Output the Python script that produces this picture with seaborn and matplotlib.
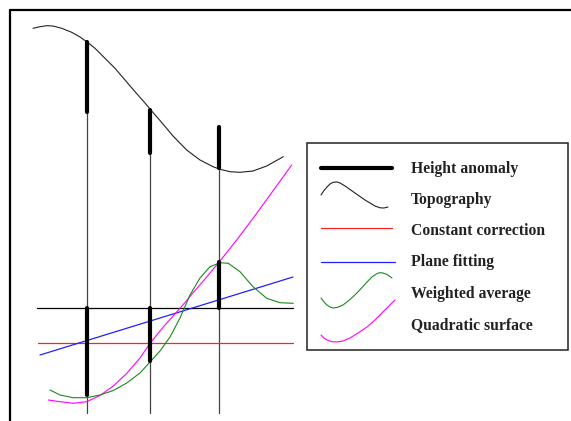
import matplotlib
matplotlib.use("Agg")
import matplotlib.pyplot as plt
import seaborn as sns
from matplotlib.patches import Rectangle

sns.set_theme(style="white")
plt.rcParams['font.family'] = ['Liberation Serif', 'DejaVu Serif']

# ---- schematic curves (image-like coordinates: x right, y down) ----
topo_x = [33, 40, 46.7, 53, 61.7, 71.7, 80, 86.7, 95, 105, 115, 125, 135, 145,
          150, 160, 173, 186.7, 200, 213, 220, 230, 240, 253, 266.7, 283.3]
topo_y = [28.3, 26.7, 25.7, 26, 28.3, 32.3, 37, 41.7, 48.3, 58.3, 68.3, 80, 91.7, 103,
          109, 120.5, 136, 150, 160, 166.7, 169.3, 171.7, 172.3, 171, 166, 156.7]

quad_x = [48.3, 60, 73.3, 86.7, 100, 113.3, 126.7, 140, 150, 163.3, 176.7, 186.7,
          193.3, 206.7, 220, 236.7, 253.3, 270, 291.7]
quad_y = [400, 401.7, 403.3, 401.7, 395.5, 386, 373.5, 358, 343.3, 327, 312, 300.5,
          292.5, 277, 261, 240, 218, 195, 165]

wavg_x = [50, 60, 73.3, 86.7, 100, 113.3, 126.7, 140, 150, 160, 170, 180, 190, 200,
          210, 220, 228.3, 240, 253, 266.7, 280, 293.3]
wavg_y = [390, 395, 397.7, 397.7, 395, 390.5, 383, 373, 362, 351, 337, 318, 295, 278,
          266.7, 262.7, 263.3, 271.7, 286.7, 298.3, 302.7, 303.3]

plane_x = [40, 293]
plane_y = [355, 277]

const_x = [38, 293]
const_y = [343, 343]

ref_x = [37, 293]
ref_y = [308, 308]

# stations
station_x = [87, 150, 219]
station_top = [42, 110, 168]
station_bottom = [413, 413, 413]
anom_upper_top = [42, 110, 127]
anom_upper_bot = [112, 153, 168]
anom_lower_top = [308, 308, 262]
anom_lower_bot = [395, 361, 308]

# legend
legend_labels = ["Height anomaly", "Topography", "Constant correction",
                 "Plane fitting", "Weighted average", "Quadratic surface"]
legend_baselines = [173, 204, 235, 266, 298, 329]

lg_topo_x = [321, 324, 327, 330, 333, 337, 340, 345, 350, 355, 360, 365, 370, 375, 380, 384, 388]
lg_topo_y = [195, 190.5, 187, 184, 182.3, 182, 183, 186, 189.5, 193, 196.5, 200, 203, 206, 207.8, 208, 207]
lg_wavg_x = [321, 324, 327, 330, 333, 337, 343, 350, 357, 362, 367, 372, 377, 380, 383, 387, 392]
lg_wavg_y = [298, 302, 305, 307, 308, 307.5, 305, 299.5, 293, 287.5, 282, 277, 273.5, 272.7, 273, 274.5, 278]
lg_quad_x = [321, 324, 327, 332, 337, 343, 350, 358, 367, 375, 383, 389, 395]
lg_quad_y = [335, 338, 340, 341.7, 342, 341, 338, 333, 327, 320, 312, 306, 300]

fig = plt.figure(figsize=(5.71, 4.21), dpi=100)
ax = fig.add_axes([0, 0, 1, 1])
ax.set_xlim(0, 571)
ax.set_ylim(421, 0)
ax.axis("off")

def line(x, y, color, lw, z=2):
    sns.lineplot(x=x, y=y, color=color, linewidth=lw, sort=False,
                 estimator=None, ax=ax, zorder=z)

# frame (top and left)
line([10, 571], [10, 10], "black", 1.6)
line([10, 10], [10, 421], "black", 1.6)

# vertical station lines
for xs, t, b in zip(station_x, station_top, station_bottom):
    line([xs, xs], [t, b], "#444444", 0.9, z=1)

line(ref_x, ref_y, "black", 0.9)
line(const_x, const_y, "#ff2020", 0.9)
line(plane_x, plane_y, "#2020ff", 0.9)
line(topo_x, topo_y, "#222222", 0.8)
line(quad_x, quad_y, "#ff00ff", 0.8)
line(wavg_x, wavg_y, "#1a8a1a", 0.8)

# height anomaly bars
for xs, t, b in zip(station_x, anom_upper_top, anom_upper_bot):
    line([xs, xs], [t, b], "black", 3.0, z=4)
for xs, t, b in zip(station_x, anom_lower_top, anom_lower_bot):
    line([xs, xs], [t, b], "black", 3.0, z=4)

# legend box
ax.add_patch(Rectangle((307, 143), 261, 207, fill=False, edgecolor="#222222",
                       linewidth=1.1, zorder=3))
line([321, 392], [168, 168], "black", 3.0)
line(lg_topo_x, lg_topo_y, "#222222", 0.8)
line([321, 392], [228, 228], "#ff2020", 0.9)
line([321, 395], [262, 262], "#2020ff", 0.9)
line(lg_wavg_x, lg_wavg_y, "#1a8a1a", 0.8)
line(lg_quad_x, lg_quad_y, "#ff00ff", 0.8)

for lab, yb in zip(legend_labels, legend_baselines):
    ax.text(411, yb, lab, fontsize=11.3, fontweight="bold", color="#222222",
            ha="left", va="baseline")

fig.savefig("out.png", dpi=100, facecolor="white")
